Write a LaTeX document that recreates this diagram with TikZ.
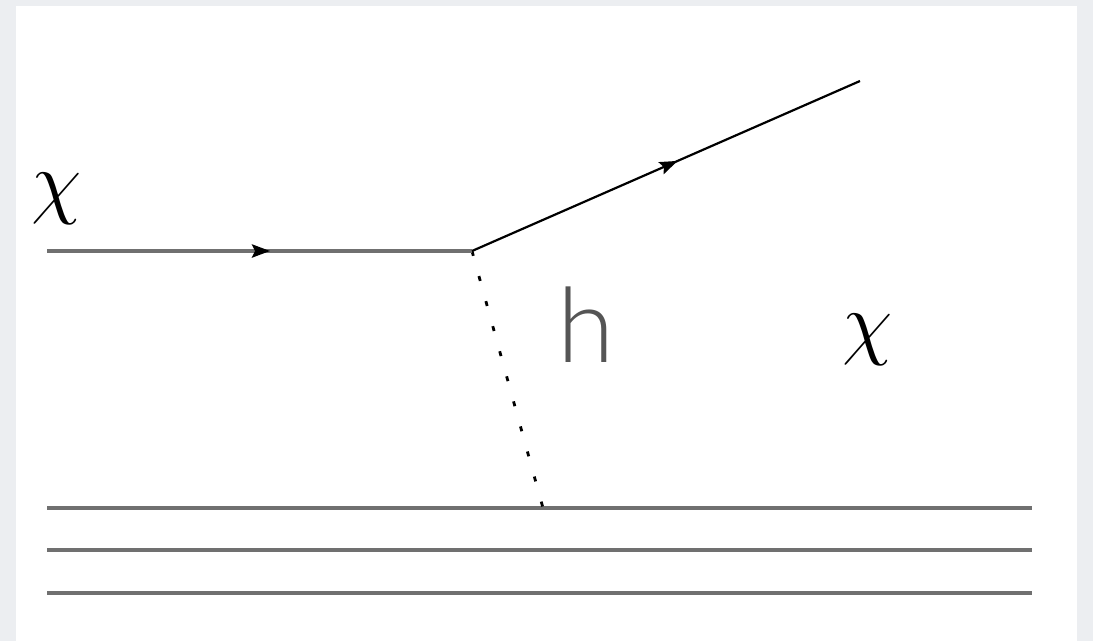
\documentclass[tikz,border=0pt]{standalone}
\usepackage{fix-cm}
\usepackage{fontspec}
\newfontfamily\hfont{Lato}[UprightFont={* Light}]
\usetikzlibrary{arrows.meta,decorations.markings}
\definecolor{bgray}{HTML}{ECEEF1}
\definecolor{lgray}{HTML}{707070}
\definecolor{tgray}{HTML}{555555}
\tikzset{
  midarrow/.style={postaction={decorate},decoration={markings,
    mark=at position #1 with {\arrow[black]{Stealth[length=18pt,width=13pt,inset=3pt]}}}},
  inline/.style={draw=lgray,line width=3.5pt,midarrow=0.525},
  outline/.style={draw=black,line width=2.2pt,midarrow=0.53},
  higgs/.style={draw=black,line width=2.8pt,dash pattern=on 5pt off 21pt},
  matter/.style={draw=lgray,line width=3.5pt},
  chilabel/.style={inner sep=0pt,font=\fontsize{82}{82}\selectfont},
  hlabel/.style={inner sep=0pt,text=tgray,font=\hfont\fontsize{104}{104}\selectfont}
}
\begin{document}
\begin{tikzpicture}[x=1pt,y=-1pt]
\useasboundingbox (0,0) rectangle (1093,641);
\fill[bgray] (0,0) rectangle (1093,641);
\fill[white] (16,6) rectangle (1077,641);
\coordinate (in) at (47,251);
\coordinate (v) at (472,251);
\coordinate (out) at (860,81);
\coordinate (w) at (543,508);
\coordinate (m1a) at (47,508);
\coordinate (m1b) at (1032,508);
\coordinate (m2a) at (47,550);
\coordinate (m2b) at (1032,550);
\coordinate (m3a) at (47,593);
\coordinate (m3b) at (1032,593);
\draw[matter] (m1a) -- (m1b);
\draw[matter] (m2a) -- (m2b);
\draw[matter] (m3a) -- (m3b);
\draw[higgs] (v) -- (w);
\draw[inline] (in) -- (v);
\draw[outline] (v) -- (out);
\node[chilabel] (chiin) at (56.5,198.5) {$\chi$};
\node[chilabel] (chiout) at (867.5,339.5) {$\chi$};
\node[hlabel] (h) at (586,325) {h};
\end{tikzpicture}
\end{document}
